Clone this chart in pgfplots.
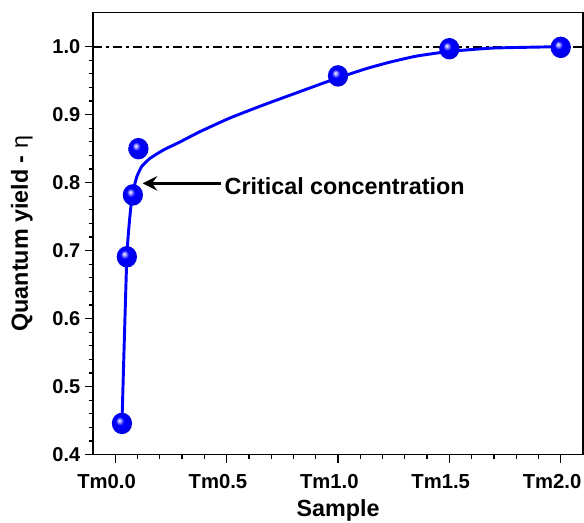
\documentclass[border=0pt]{standalone}
\usepackage{pgfplots}
\pgfplotsset{compat=1.18}
\usepackage{fontspec}
\setmainfont{Liberation Sans}
\usetikzlibrary{arrows.meta}
\pgfdeclareradialshading{myball}{\pgfqpoint{-7bp}{7bp}}{%
  color(0bp)=(white); color(3bp)=(blue!30!white); color(10bp)=(blue);
  color(28bp)=(blue!88!black); color(50bp)=(blue!88!black)}
\pgfdeclareplotmark{myball}{%
  \pgfpathellipse{\pgfpointorigin}{\pgfqpoint{\pgfplotmarksize}{0pt}}{\pgfqpoint{0pt}{1.06\pgfplotmarksize}}%
  \pgfshadepath{myball}{0}%
  \pgfusepath{}%
}
\begin{document}
\begin{tikzpicture}
\useasboundingbox (-69.75pt,-51pt) rectangle (368.25pt,341pt);
\begin{axis}[
  scale only axis,
  width=367.5pt, height=331.5pt,
  xmin=-0.1, xmax=2.1, ymin=0.4, ymax=1.05,
  xtick={0,0.5,1,1.5,2},
  xticklabels={Tm0.0,Tm0.5,Tm1.0,Tm1.5,Tm2.0},
  ytick={0.4,0.5,0.6,0.7,0.8,0.9,1.0},
  minor x tick num=4, minor y tick num=4,
  xtick pos=left, ytick pos=left,
  tick align=outside,
  major tick length=6pt, minor tick length=3pt,
  every tick/.style={black, line width=0.9pt},
  axis line style={line width=1.2pt},
  /pgf/number format/assume math mode=true,
  /pgf/number format/.cd, fixed, fixed zerofill, precision=1, /pgfplots/.cd,
  yticklabel style={font=\fontsize{15}{17}\selectfont\bfseries, anchor=east},
  xticklabel style={font=\fontsize{15.2}{17}\selectfont\bfseries, anchor=base, yshift=-19.5pt, xshift=-6.5pt},
  xlabel={Sample},
  ylabel={Quantum yield - {\mdseries η}},
  label style={font=\fontsize{17.5}{20}\selectfont\bfseries},
  xlabel style={at={(axis description cs:0.5,-0.140)}, anchor=base},
  ylabel style={at={(axis description cs:-0.145,0.5)}, anchor=center, rotate=0},
  clip=false,
]
\addplot[black, line width=1.4pt, dash pattern=on 7pt off 3pt on 2pt off 3pt, forget plot]
  coordinates {(-0.1,1.0) (2.1,1.0)};
\addplot[blue, line width=2.2pt, smooth, tension=0.3, no markers] coordinates {
(0.030,0.446) (0.052,0.691) (0.070,0.765) (0.079,0.782) (0.085,0.794)
(0.097,0.809) (0.119,0.824) (0.157,0.836) (0.216,0.848) (0.291,0.860)
(0.380,0.875) (0.514,0.895) (0.663,0.914) (0.813,0.932) (0.947,0.948)
(1.036,0.958) (1.130,0.968) (1.230,0.977) (1.350,0.986) (1.500,0.993) (1.700,0.998) (2.000,1.000)
};
\addplot[only marks, mark=myball, mark size=7.6pt] coordinates {
(0.030,0.446) (0.052,0.691) (0.079,0.782) (0.104,0.850)
(1.000,0.957) (1.500,0.997) (2.000,0.999)
};
\draw[black, line width=2pt, -{Stealth[length=11pt, width=11pt, inset=4pt]}]
  (axis cs:0.474,0.799) -- (axis cs:0.123,0.799);
\node[anchor=west, inner sep=0pt, font=\fontsize{17.5}{20}\selectfont\bfseries]
  at (axis cs:0.49,0.795) {Critical concentration};
\end{axis}
\end{tikzpicture}
\end{document}
